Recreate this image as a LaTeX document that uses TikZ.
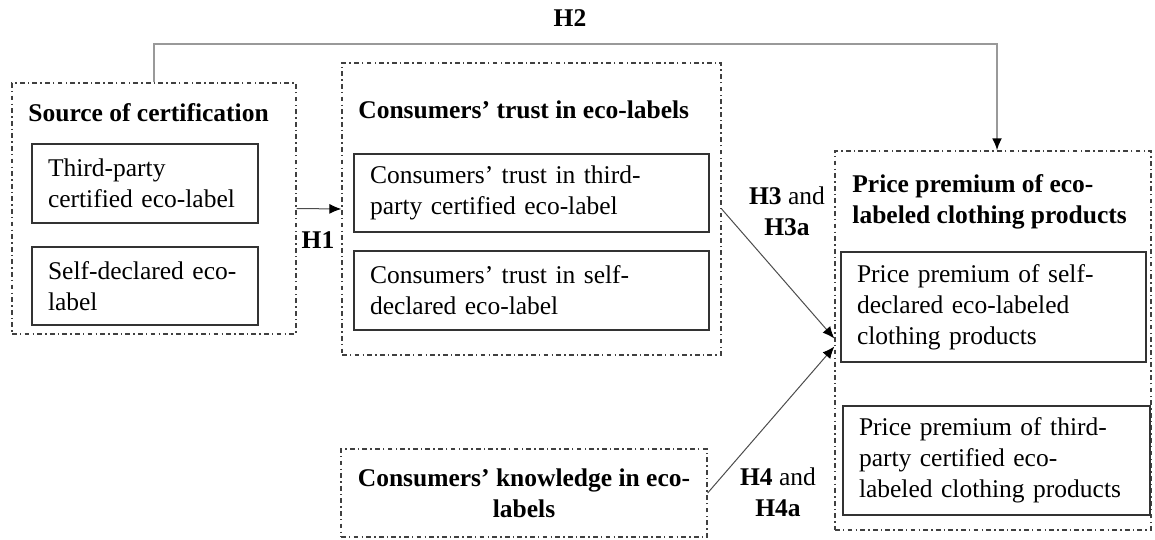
\documentclass[tikz,border=0pt]{standalone}
\usepackage{fontspec}
\setmainfont{Liberation Serif}
\usetikzlibrary{arrows.meta,positioning,calc}
\newcommand\diagfont{\fontsize{12.75}{15.5}\selectfont}
\tikzset{
	group/.style = {draw=black!75, line width=0.65pt, dash pattern=on 2.4pt off 1.6pt on 0.7pt off 1.6pt, rectangle, inner sep=0pt},
	item/.style = {draw=black!80, line width=0.8pt, rectangle, inner xsep=8pt, inner ysep=0pt, align=left},
	heading/.style = {font=\diagfont\bfseries, anchor=west, inner sep=0pt, align=left},
	hyp/.style = {inner sep=0pt, align=center},
	link/.style = {draw=black!70, line width=0.5pt, -{Latex[length=6pt,width=5pt,black]}}
}

\begin{document}
\begin{tikzpicture}[x=0.5pt, y=-0.5pt, font=\diagfont]
		\useasboundingbox (0,0) rectangle (1155,540);
		% source of certification
		\node[group, minimum width=142pt, minimum height=125.5pt] (src) at (154,208.5) {};
		\node[heading] (srctitle) at (28,113) {Source of certification};
		\node[item, minimum width=113pt, text width=97pt, minimum height=39.5pt] (third) at (145,183.5) {Third-party\\certified eco-label};
		\node[item, minimum width=113pt, text width=97pt, minimum height=39pt] (self) at (145,286) {Self-declared eco-\\label};
		% trust
		\node[group, minimum width=189.5pt, minimum height=146pt] (trust) at (531.5,209) {};
		\node[heading] (trusttitle) at (358,110) {Consumers’ trust in eco-labels};
		\node[item, minimum width=177.5pt, text width=161.5pt, minimum height=39pt] (trustthird) at (531.5,193) {Consumers’ trust in third-\\party certified eco-label};
		\node[item, minimum width=177.5pt, text width=161.5pt, minimum height=39.5pt] (trustself) at (531.5,290.5) {Consumers’ trust in self-\\declared eco-label};
		% price premium
		\node[group, minimum width=158pt, minimum height=189.5pt] (price) at (993,340.5) {};
		\node[heading] (pricetitle) at (852,202) {Price premium of eco-\\labeled clothing products};
		\node[item, minimum width=152.5pt, text width=136.5pt, minimum height=55pt] (priceself) at (993.5,307) {Price premium of self-\\declared eco-labeled\\clothing products};
		\node[item, minimum width=153.5pt, text width=137.5pt, minimum height=54.5pt] (pricethird) at (996.5,460.5) {Price premium of third-\\party certified eco-\\labeled clothing products};
		% knowledge
		\node[group, minimum width=183pt, minimum height=44pt, font=\diagfont\bfseries, align=center] (know) at (524,493) {Consumers’ knowledge in eco-\\labels};
		% hypotheses
		\node[hyp, font=\diagfont\bfseries] (h2) at (570,18) {H2};
		\node[hyp, font=\diagfont\bfseries] (h1) at (318,240) {H1};
		\node[hyp] (h3) at (787,211) {\textbf{H3} and\\\textbf{H3a}};
		\node[hyp] (h4) at (778,492) {\textbf{H4} and\\\textbf{H4a}};
		\coordinate (h2top) at (570,44);
		\draw[link] (src.east) -- (trust.west);
		\draw[link, draw=black!40, line width=1pt] (src.north) |- (h2top) -| ([xshift=2pt]price.north);
		\draw[link] (trust.east) -- ([yshift=1pt]price.west);
		\draw[link] (know.east) -- ([yshift=-3pt]price.west);
	\end{tikzpicture}
\end{document}
